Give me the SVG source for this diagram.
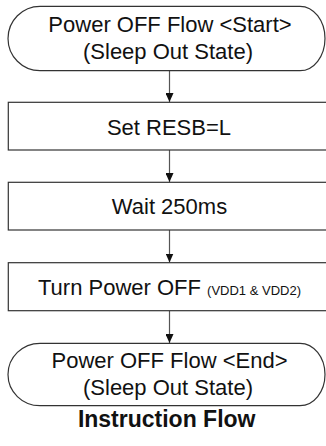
<svg xmlns="http://www.w3.org/2000/svg" width="326" height="446" viewBox="0 0 326 446">
<defs>
<marker id="arr" viewBox="0 0 9 8" refX="9" refY="4" markerWidth="9" markerHeight="8" markerUnits="userSpaceOnUse" orient="auto">
<path d="M0,0 L9,4 L0,8 Z" fill="#111"/>
</marker>
<style>
.shape{fill:#fff;stroke:#333;stroke-width:1.2}
.t{font-family:"Liberation Sans",Arial,sans-serif;font-size:22px;fill:#111;text-anchor:middle}
.s{font-size:13px}
.title{font-family:"Liberation Sans",Arial,sans-serif;font-size:23px;font-weight:bold;fill:#111;text-anchor:middle}
.conn{stroke:#555;stroke-width:1.2;fill:none}
</style>
</defs>
<rect width="326" height="446" fill="#fff"/>
<g id="connectors">
<line class="conn" x1="169.5" y1="71" x2="169.5" y2="102" marker-end="url(#arr)"/>
<line class="conn" x1="169.5" y1="150" x2="169.5" y2="182" marker-end="url(#arr)"/>
<line class="conn" x1="169.5" y1="230" x2="169.5" y2="262.5" marker-end="url(#arr)"/>
<line class="conn" x1="169.5" y1="310.7" x2="169.5" y2="343" marker-end="url(#arr)"/>
</g>
<g id="start">
<path class="shape" d="M40,6.3 H300 A25,32.2 0 0 1 300,70.7 H40 A32,32.2 0 0 1 40,6.3 Z"/>
<text class="t" x="170" y="31.7">Power OFF Flow &lt;Start&gt;</text>
<text class="t" x="168" y="59">(Sleep Out State)</text>
</g>
<g id="set-resb">
<rect class="shape" x="8.3" y="102.3" width="324" height="47.7"/>
<text class="t" x="169" y="135">Set RESB=L</text>
</g>
<g id="wait">
<rect class="shape" x="8.3" y="182.3" width="324" height="47.7"/>
<text class="t" x="169.5" y="214">Wait 250ms</text>
</g>
<g id="power-off">
<rect class="shape" x="8.3" y="262.7" width="324" height="48"/>
<text class="t" x="169.5" y="295">Turn Power OFF <tspan class="s">(VDD1 &amp; VDD2)</tspan></text>
</g>
<g id="end">
<path class="shape" d="M40,343.3 H300 A25,31.2 0 0 1 300,405.7 H40 A32,31.2 0 0 1 40,343.3 Z"/>
<text class="t" x="169.5" y="368.4">Power OFF Flow &lt;End&gt;</text>
<text class="t" x="168" y="395">(Sleep Out State)</text>
</g>
<g id="caption">
<text class="title" x="166.7" y="427">Instruction Flow</text>
</g>
</svg>
